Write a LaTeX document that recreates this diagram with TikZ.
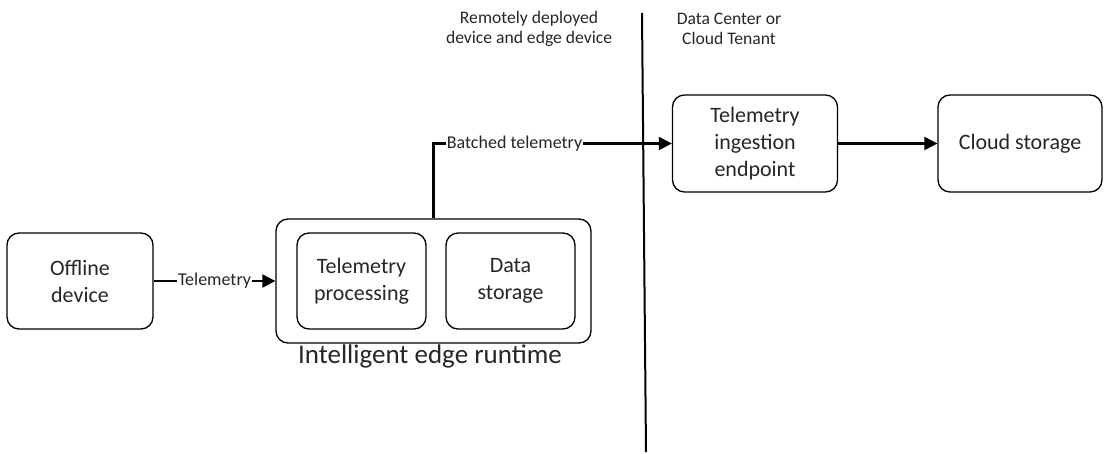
\documentclass[tikz,border=0pt]{standalone}
\usepackage{fontspec}
\setmainfont{Carlito}
\usetikzlibrary{arrows.meta,calc}
\tikzstyle{box}=[rectangle,rounded corners=12pt,draw=black,line width=1.3pt,fill=white,align=center,inner sep=0pt,text=black!85,font=\fontsize{22}{27}\selectfont]
\tikzstyle{edge} = [draw,line width=2.2pt,-{Triangle[length=13pt,width=13pt]}]
\tikzstyle{weight} = [fill=white,inner sep=1pt,text=black!85,font=\fontsize{18}{21}\selectfont]
\tikzstyle{zone} = [align=center,text=black!85,font=\fontsize{17.6}{20}\selectfont]
\tikzstyle{divider} = [draw,line width=2pt]

\begin{document}
\begin{tikzpicture}[x=1pt,y=-1pt]
    \useasboundingbox (0,0) rectangle (1104,453);
    % First we draw the boxes (outer runtime box first)
    \foreach \pos/\name/\w/\h/\label in {{(433.5,281)/runtime/315/124/}, 
    {(80,281)/offline/146/96/Offline\\device},
    {(361.5,281)/proc/129/96/Telemetry\\processing}, {(510.5,281)/store/129/96/Data\\storage},
    {(755,143.5)/ingest/165/97/Telemetry\\ingestion\\endpoint}, {(1020,143.5)/cloud/164/97/Cloud storage}}
        \node[box, minimum width=\w pt, minimum height=\h pt] (\name) at \pos {\label};

    % Then the texts
    \node[font=\fontsize{27}{32}\selectfont, text=black!85] (runtimelabel) at (430,356) {Intelligent edge runtime};
    \node[zone] (edgezone) at (529,29) {Remotely deployed\\device and edge device};
    \node[zone] (cloudzone) at (729,29) {Data Center or\\Cloud Tenant};

    % The border between the two sides
    \coordinate (top) at (642,13);
    \coordinate (bottom) at (646,452);
    \path[divider] (top) -- (bottom);

    % Connect boxes with edges and draw labels
    \path[edge] (offline) -- node[weight] {Telemetry} (runtime);
    \path[edge] (runtime) |- node[weight, pos=0.67] {Batched telemetry} (ingest);
    \path[edge] (ingest) -- (cloud);
\end{tikzpicture}
\end{document}
